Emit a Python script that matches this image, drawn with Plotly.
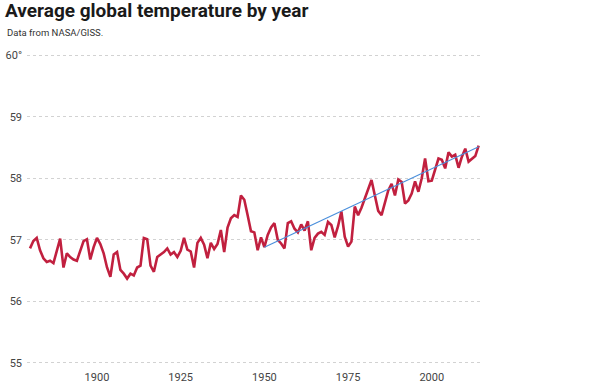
import plotly.graph_objects as go

years = list(range(1880, 2015))
temps = [
    56.86, 56.98, 57.03, 56.83, 56.70, 56.64, 56.66, 56.62, 56.82, 57.02,  # 1880s
    56.55, 56.78, 56.72, 56.68, 56.66, 56.82, 56.98, 57.01, 56.68, 56.88,  # 1890s
    57.03, 56.93, 56.78, 56.55, 56.40, 56.76, 56.80, 56.51, 56.45, 56.37,  # 1900s
    56.45, 56.42, 56.55, 56.58, 57.03, 57.01, 56.58, 56.48, 56.72, 56.76,  # 1910s
    56.80, 56.86, 56.76, 56.80, 56.72, 56.82, 57.03, 56.84, 56.81, 56.55,  # 1920s
    56.95, 57.03, 56.92, 56.70, 56.95, 56.85, 56.93, 57.16, 56.80, 57.20,  # 1930s
    57.35, 57.40, 57.37, 57.72, 57.65, 57.40, 57.14, 57.12, 56.83, 57.04,  # 1940s
    56.88, 57.08, 57.20, 57.27, 57.00, 56.94, 56.86, 57.27, 57.30, 57.18,  # 1950s
    57.12, 57.25, 57.15, 57.30, 56.83, 57.03, 57.10, 57.13, 57.08, 57.29,  # 1960s
    57.24, 57.04, 57.22, 57.46, 57.05, 56.89, 56.97, 57.54, 57.40, 57.52,  # 1970s
    57.68, 57.82, 57.97, 57.72, 57.47, 57.40, 57.62, 57.80, 57.91, 57.72,  # 1980s
    57.98, 57.94, 57.59, 57.64, 57.75, 57.95, 57.78, 58.00, 58.32, 57.95,  # 1990s
    57.96, 58.15, 58.32, 58.30, 58.16, 58.42, 58.35, 58.38, 58.17, 58.35,  # 2000s
    58.48, 58.27, 58.31, 58.36, 58.53,                                      # 2010s
]

trend_years = [1950, 2014]
trend_values = [56.88, 58.51]

y_ticks = [55, 56, 57, 58, 59, 60]
y_tick_labels = ["55", "56", "57", "58", "59", "60°"]
x_ticks = [1900, 1925, 1950, 1975, 2000]
x_tick_labels = ["1900", "1925", "1950", "1975", "2000"]

fig = go.Figure()
fig.add_trace(go.Scatter(
    x=years, y=temps, mode="lines",
    line=dict(color="#c1203f", width=2.6),
    hoverinfo="x+y", showlegend=False,
))
fig.add_trace(go.Scatter(
    x=trend_years, y=trend_values, mode="lines",
    line=dict(color="#4a8fdc", width=1.1),
    showlegend=False,
))

font_family = "Roboto, 'Open Sans', sans-serif"

# plot area: x 27..482, y 52..366 (range 54.95..60.05)
fig.update_layout(
    width=615, height=389,
    margin=dict(l=27, r=133, t=52, b=23, autoexpand=False),
    paper_bgcolor="white", plot_bgcolor="white",
    font=dict(family=font_family, color="#333", size=11),
    title=dict(
        text="<b>Average global temperature by year</b>",
        x=5 / 615, xanchor="left", xref="container",
        y=1 - 4 / 389, yanchor="top", yref="container",
        font=dict(family=font_family, size=19, color="#1a1a1a"),
    ),
    annotations=[dict(
        text="Data from NASA/GISS.",
        xref="paper", yref="paper",
        x=(5 - 27) / 455, y=(366 - 33) / 314,
        xanchor="left", yanchor="middle", showarrow=False,
        font=dict(family=font_family, size=9.5, color="#333"),
    )],
    xaxis=dict(
        range=[1879.1, 2015.0],
        tickmode="array", tickvals=x_ticks, ticktext=x_tick_labels,
        showgrid=False, zeroline=False, showline=False, ticks="",
        tickfont=dict(size=11, color="#444"),
        ticklabelstandoff=3,
        automargin=False,
        fixedrange=True,
    ),
    yaxis=dict(
        range=[54.95, 60.05],
        tickmode="array", tickvals=y_ticks, ticktext=y_tick_labels,
        showgrid=True, gridcolor="#d2d2d2", griddash="dot", gridwidth=1,
        zeroline=False, showline=False, ticks="",
        tickfont=dict(size=11, color="#444"),
        ticklabelstandoff=4,
        automargin=False,
        fixedrange=True,
    ),
)

fig.write_html(
    "out.html",
    config={"displayModeBar": False},
    post_script="document.body.style.margin='0';",
)
